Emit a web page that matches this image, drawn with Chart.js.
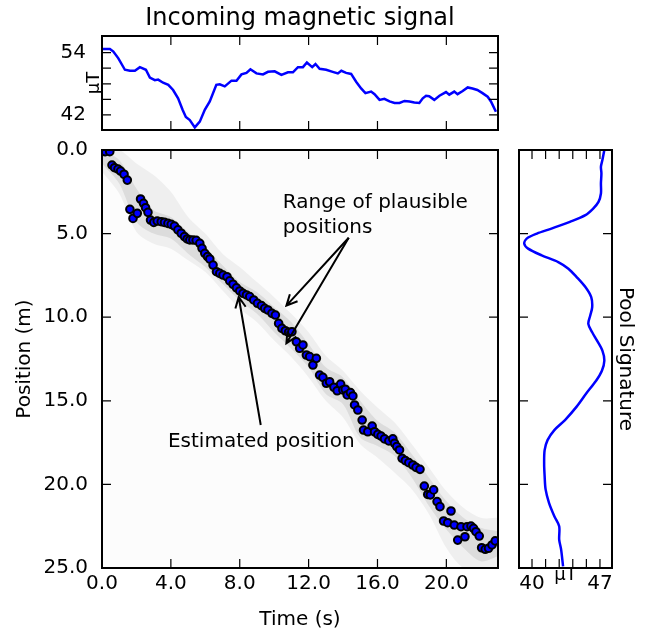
<!DOCTYPE html>
<html>
<head>
<meta charset="utf-8">
<script src="https://cdn.jsdelivr.net/npm/chart.js@4/dist/chart.umd.min.js"></script>
<style>
  html, body { margin: 0; padding: 0; background: #fff; }
  #wrap { position: relative; width: 650px; height: 633px; }
  canvas { position: absolute; }
</style>
</head>
<body>
<div id="wrap">
  <canvas id="signal" width="515" height="140" style="left:0;top:0"></canvas>
  <canvas id="track" width="515" height="493" style="left:0;top:140px"></canvas>
  <canvas id="pool" width="145" height="493" style="left:505px;top:140px"></canvas>
</div>
<script>
// incoming signal (top panel)
const sigTime = [0.0, 0.46, 0.66, 0.95, 1.33, 1.62, 1.91, 2.2, 2.55, 2.78, 3.07, 3.26, 3.55, 3.85, 4.13, 4.42, 4.68, 4.87, 5.1, 5.39,
  5.68, 5.97, 6.26, 6.64, 6.84, 7.13, 7.52, 7.81, 8.1, 8.39, 8.62, 8.97, 9.35, 9.64, 10.03, 10.42, 10.8, 11.09, 11.38, 11.67,
  11.9, 12.21, 12.4, 12.64, 13.02, 13.4, 13.7, 13.9, 14.18, 14.47, 14.76, 15.05, 15.3, 15.63, 15.83, 16.12, 16.4, 16.7, 16.99, 17.28,
  17.57, 17.86, 18.14, 18.43, 18.63, 18.82, 19.0, 19.3, 19.6, 19.98, 20.17, 20.46, 20.65, 20.95, 21.24, 21.52, 21.8, 22.1, 22.4, 22.59, 22.88];
const sigValue = [54.7, 54.7, 54.2, 52.9, 50.7, 50.5, 50.5, 51.2, 50.7, 49.2, 48.7, 48.8, 48.2, 47.8, 46.8, 45.2, 43.0, 41.6, 41.0, 39.6,
  40.7, 43.0, 44.6, 47.8, 47.9, 47.5, 48.6, 48.6, 49.8, 50.1, 50.8, 50.0, 49.8, 50.3, 50.4, 49.7, 50.2, 50.2, 51.2, 51.2,
  52.1, 51.2, 51.8, 50.9, 50.7, 50.3, 50.0, 50.5, 50.1, 49.9, 48.4, 47.1, 46.2, 46.5, 46.0, 44.9, 45.1, 44.6, 44.3, 44.3,
  44.7, 44.6, 44.4, 44.3, 45.2, 45.7, 45.6, 44.9, 45.7, 46.4, 45.9, 46.5, 46.0, 46.6, 47.3, 47.1, 46.8, 46.2, 45.5, 44.6, 42.6];

// estimated position (main panel)
const estTime = [0.0, 0.19, 0.45, 0.58, 0.73, 0.93, 1.08, 1.28, 1.47, 1.62, 1.8, 2.05, 2.24, 2.41, 2.53, 2.67, 2.82, 3.01, 3.21, 3.44,
  3.63, 3.83, 4.02, 4.21, 4.41, 4.6, 4.79, 4.95, 5.1, 5.28, 5.47, 5.68, 5.81, 5.97, 6.13, 6.26, 6.45, 6.65, 6.84, 7.03,
  7.26, 7.42, 7.61, 7.81, 8.0, 8.19, 8.39, 8.58, 8.81, 9.03, 9.26, 9.45, 9.64, 9.87, 10.07, 10.26, 10.45, 10.65, 10.84, 11.03,
  11.29, 11.48, 11.67, 11.87, 12.06, 12.25, 12.45, 12.64, 12.83, 13.03, 13.22, 13.47, 13.66, 13.86, 13.99, 14.13, 14.24, 14.43, 14.57, 14.67,
  14.86, 15.11, 15.19, 15.44, 15.69, 15.83, 16.02, 16.21, 16.41, 16.66, 16.89, 16.99, 17.12, 17.28, 17.43, 17.62, 17.82, 18.05, 18.24, 18.47,
  18.72, 18.92, 19.07, 19.26, 19.46, 19.63, 19.84, 20.08, 20.27, 20.46, 20.66, 20.85, 21.08, 21.2, 21.43, 21.58, 21.72, 21.91, 22.05, 22.26,
  22.45, 22.65, 22.84];
const estPos = [0.0, 0.1, 0.1, 0.9, 1.06, 1.14, 1.26, 1.45, 1.8, 3.55, 4.09, 3.79, 2.93, 3.19, 3.45, 3.73, 4.19, 4.33, 4.25, 4.29,
  4.33, 4.39, 4.45, 4.55, 4.78, 4.98, 5.18, 5.32, 5.38, 5.38, 5.4, 5.58, 5.88, 6.18, 6.38, 6.52, 6.88, 7.28, 7.38, 7.48,
  7.58, 7.83, 8.03, 8.24, 8.43, 8.57, 8.67, 8.77, 8.97, 9.17, 9.31, 9.47, 9.57, 9.77, 9.87, 10.37, 10.67, 10.81, 10.9, 10.87,
  11.47, 11.86, 11.66, 12.26, 12.36, 12.86, 12.46, 13.46, 13.6, 13.95, 13.86, 14.19, 14.4, 14.0, 14.35, 14.31, 14.65, 14.51, 14.71, 15.25,
  15.55, 16.15, 16.75, 16.85, 16.51, 16.85, 17.01, 17.11, 17.28, 17.4, 17.28, 17.54, 17.74, 17.94, 18.44, 18.58, 18.7, 18.84, 18.98, 19.1,
  20.1, 20.6, 20.63, 20.33, 21.03, 21.33, 22.19, 22.29, 21.59, 22.43, 23.33, 22.53, 23.13, 22.53, 22.49, 22.63, 22.83, 23.09, 23.79, 23.88,
  23.82, 23.62, 23.38];

// range of plausible positions (grey band)
const bandTime = [0, 1, 2, 3, 4, 5, 6, 7, 8, 9, 10, 11, 12, 13, 14, 15, 16, 17, 18, 19, 20, 21, 22, 23];
const outerLow = [0, 0, 0.8, 1.5, 2.5, 4.0, 5.0, 6.2, 7.0, 7.9, 8.8, 9.8, 10.9, 12.3, 13.2, 14.4, 15.4, 16.3, 17.6, 19.0, 20.4, 21.4, 22.0, 22.0];
const outerHigh = [1.3, 2.6, 4.9, 5.6, 5.9, 6.6, 7.3, 8.4, 9.5, 10.3, 11.4, 12.4, 13.6, 15.0, 16.0, 17.6, 18.4, 19.3, 20.3, 21.8, 23.8, 25, 25, 25];
const innerLow = [0, 0.6, 2.3, 3.6, 4.0, 4.9, 5.8, 6.9, 7.9, 8.5, 9.4, 10.3, 11.6, 13.0, 13.6, 15.0, 16.2, 16.9, 18.2, 19.6, 21.0, 22.0, 22.6, 22.8];
const innerHigh = [0.8, 2.0, 4.3, 5.0, 5.3, 6.2, 7.0, 8.0, 9.0, 9.8, 10.9, 11.9, 13.0, 14.6, 15.2, 17.2, 17.7, 18.3, 19.6, 21.3, 22.7, 23.8, 24.6, 24.3];

// pool signature (right panel)
const poolPos = [0, 0.6, 1.0, 1.4, 2.0, 2.6, 3.1, 3.5, 3.9, 4.3, 4.7, 5.0, 5.3, 5.6, 5.9, 6.3, 6.7, 7.1, 7.6, 8.2,
  8.8, 9.4, 9.9, 10.4, 10.9, 11.4, 12.0, 12.6, 13.2, 13.8, 14.55, 15.35, 16.15, 16.75, 17.35, 17.95, 18.75, 19.5, 20.3, 21.1,
  21.9, 22.5, 23.3, 23.9, 24.9];
const poolValue = [47.45, 47.25, 47.1, 47.15, 47.1, 47.1, 46.85, 46.3, 45.5, 43.9, 42.0, 40.5, 39.45, 39.2, 39.6, 41.0, 42.7, 43.75, 44.6, 45.5,
  46.1, 46.2, 46.0, 45.8, 46.2, 46.7, 47.25, 47.45, 47.2, 46.6, 45.6, 44.6, 43.4, 42.3, 41.6, 41.3, 41.25, 41.3, 41.4, 41.75,
  42.3, 42.8, 42.8, 43.0, 43.2];

// ticks
const timeTicks = [0, 4, 8, 12, 16, 20];
const posTicks = [0, 5, 10, 15, 20, 25];
const sigTicks = [42, 45, 48, 51, 54];
const sigLabels = ['42', '', '', '', '54'];
const poolTicks = [40, 41.4, 42.8, 44.2, 45.6, 47];
const poolLabels = ['40', '', '', '', '', '47'];

const pts = (xs, ys) => xs.map((x, i) => ({x: x, y: ys[i]}));

Chart.defaults.font.family = "'DejaVu Sans', sans-serif";
Chart.defaults.color = '#000';

// no extra room for edge labels, the areas are placed by hand
const noPad = s => { s.paddingTop = 0; s.paddingBottom = 0; s.paddingLeft = 0; s.paddingRight = 0; };

// background, border and inward tick marks like the original
const frame = {
  id: 'frame',
  beforeDraw(chart, args, opts) {
    const {ctx, chartArea: a} = chart;
    ctx.save();
    ctx.fillStyle = opts.bg || '#fff';
    ctx.fillRect(a.left, a.top, a.width, a.height);
    ctx.restore();
  },
  afterDraw(chart) {
    const {ctx, chartArea: a, scales} = chart;
    const len = 9;
    ctx.save();
    ctx.strokeStyle = '#000';
    ctx.lineWidth = 1.2;
    ctx.beginPath();
    Object.values(scales).forEach(s => {
      s.ticks.forEach(t => {
        const p = s.getPixelForValue(t.value);
        if (s.isHorizontal()) {
          if (p <= a.left + 1 || p >= a.right - 1) return;
          ctx.moveTo(p, a.bottom); ctx.lineTo(p, a.bottom - len);
          ctx.moveTo(p, a.top); ctx.lineTo(p, a.top + len);
        } else {
          if (p <= a.top + 1 || p >= a.bottom - 1) return;
          ctx.moveTo(a.left, p); ctx.lineTo(a.left + len, p);
          ctx.moveTo(a.right, p); ctx.lineTo(a.right - len, p);
        }
      });
    });
    ctx.stroke();
    ctx.lineWidth = 2;
    ctx.strokeRect(a.left, a.top, a.width, a.height);
    ctx.restore();
  }
};

// text labels and arrows, placed in data units
const notes = {
  id: 'notes',
  afterDatasetsDraw(chart) {
    const {ctx, scales: {x, y}} = chart;
    const X = v => x.getPixelForValue(v), Y = v => y.getPixelForValue(v);
    ctx.save();
    ctx.fillStyle = '#000';
    ctx.font = "20px 'DejaVu Sans'";
    ctx.textBaseline = 'middle';
    ctx.textAlign = 'left';
    ctx.fillText('Range of plausible', X(10.5), Y(3.17));
    ctx.fillText('positions', X(10.5), Y(4.66));
    ctx.fillText('Estimated position', X(3.83), Y(17.45));
    const arrow = (t0, p0, t1, p1) => {
      const x0 = X(t0), y0 = Y(p0), x1 = X(t1), y1 = Y(p1);
      const ang = Math.atan2(y1 - y0, x1 - x0);
      const h = 12, w = 0.45;
      ctx.beginPath();
      ctx.moveTo(x0, y0); ctx.lineTo(x1, y1);
      ctx.moveTo(x1 - h * Math.cos(ang - w), y1 - h * Math.sin(ang - w));
      ctx.lineTo(x1, y1);
      ctx.lineTo(x1 - h * Math.cos(ang + w), y1 - h * Math.sin(ang + w));
      ctx.stroke();
    };
    ctx.strokeStyle = '#000';
    ctx.lineWidth = 2;
    arrow(14.33, 5.25, 10.71, 9.31);
    arrow(14.33, 5.25, 10.71, 11.56);
    arrow(9.22, 16.45, 7.94, 8.79);
    ctx.restore();
  }
};

const base = {
  responsive: false,
  maintainAspectRatio: false,
  devicePixelRatio: 1,
  animation: false,
  events: []
};

new Chart(document.getElementById('signal'), {
  type: 'scatter',
  data: {
    datasets: [{
      data: pts(sigTime, sigValue),
      showLine: true,
      borderColor: '#0000ff',
      borderWidth: 2.5,
      pointRadius: 0
    }]
  },
  options: Object.assign({}, base, {
    layout: {padding: {right: 17}},
    plugins: {
      legend: {display: false},
      tooltip: {enabled: false},
      title: {
        display: true, text: 'Incoming magnetic signal', fullSize: false,
        font: {size: 24, weight: 'normal'}, color: '#000',
        padding: {top: 4, bottom: 3.2}
      },
      frame: {bg: '#fff'}
    },
    scales: {
      x: {
        type: 'linear', min: 0, max: 23,
        grid: {display: false}, border: {display: false},
        ticks: {display: false},
        afterBuildTicks: s => { s.ticks = timeTicks.map(v => ({value: v})); },
        afterFit: s => { s.height = 10; noPad(s); }
      },
      y: {
        type: 'linear', min: 39.1, max: 57.2,
        grid: {display: false}, border: {display: false},
        afterBuildTicks: s => { s.ticks = sigTicks.map(v => ({value: v})); },
        afterFit: s => { s.width = 102; noPad(s); },
        ticks: {font: {size: 20}, padding: 8, autoSkip: false,
          callback: (v, i) => sigLabels[i]},
        title: {display: true, text: 'μT', font: {size: 18}, padding: {top: 84, bottom: 0}}
      }
    }
  }),
  plugins: [frame]
});

new Chart(document.getElementById('track'), {
  type: 'scatter',
  data: {
    datasets: [
      {
        data: pts(estTime, estPos), order: 0,
        backgroundColor: '#0000ff', borderColor: '#000',
        borderWidth: 2, pointRadius: 3.8
      },
      {
        type: 'line', data: pts(bandTime, outerLow), order: 2,
        borderWidth: 0, pointRadius: 0, tension: 0.3, fill: false
      },
      {
        type: 'line', data: pts(bandTime, outerHigh), order: 2,
        borderWidth: 0, pointRadius: 0, tension: 0.3,
        fill: '-1', backgroundColor: 'rgba(0,0,0,0.05)'
      },
      {
        type: 'line', data: pts(bandTime, innerLow), order: 1,
        borderWidth: 0, pointRadius: 0, tension: 0.3, fill: false
      },
      {
        type: 'line', data: pts(bandTime, innerHigh), order: 1,
        borderWidth: 0, pointRadius: 0, tension: 0.3,
        fill: '-1', backgroundColor: 'rgba(0,0,0,0.08)'
      }
    ]
  },
  options: Object.assign({}, base, {
    layout: {padding: {top: 10, right: 17}},
    plugins: {
      legend: {display: false},
      tooltip: {enabled: false},
      frame: {bg: '#fcfcfc'}
    },
    scales: {
      x: {
        type: 'linear', min: 0, max: 23,
        grid: {display: false}, border: {display: false},
        afterBuildTicks: s => { s.ticks = timeTicks.map(v => ({value: v})); },
        afterFit: s => { s.height = 65; noPad(s); },
        ticks: {font: {size: 20}, padding: -4, autoSkip: false, maxRotation: 0,
          callback: v => Number(v).toFixed(1)},
        title: {display: true, text: 'Time (s)', font: {size: 20}, padding: {top: 0, bottom: 1}}
      },
      y: {
        type: 'linear', min: 0, max: 25, reverse: true,
        grid: {display: false}, border: {display: false},
        afterBuildTicks: s => { s.ticks = posTicks.map(v => ({value: v})); },
        afterFit: s => { s.width = 102; noPad(s); },
        ticks: {font: {size: 20}, padding: 6, autoSkip: false,
          callback: v => Number(v).toFixed(1)},
        title: {display: true, text: 'Position (m)', font: {size: 20}, padding: {top: 13, bottom: 0}}
      }
    }
  }),
  plugins: [frame, notes]
});

new Chart(document.getElementById('pool'), {
  type: 'scatter',
  data: {
    datasets: [{
      data: pts(poolValue, poolPos),
      showLine: true,
      borderColor: '#0000ff',
      borderWidth: 2.5,
      pointRadius: 0,
      tension: 0.3
    }]
  },
  options: Object.assign({}, base, {
    layout: {padding: {left: 14, top: 10}},
    plugins: {
      legend: {display: false},
      tooltip: {enabled: false},
      frame: {bg: '#fff'}
    },
    scales: {
      x: {
        type: 'linear', min: 38.66, max: 48.24,
        grid: {display: false}, border: {display: false},
        afterBuildTicks: s => { s.ticks = poolTicks.map(v => ({value: v})); },
        afterFit: s => { s.height = 65; noPad(s); },
        ticks: {font: {size: 20}, padding: -4, autoSkip: false, maxRotation: 0,
          callback: (v, i) => poolLabels[i]},
        title: {display: true, text: 'μT', font: {size: 18}, padding: {top: 0, bottom: 47}}
      },
      y: {
        type: 'linear', position: 'right', min: 0, max: 25, reverse: true,
        grid: {display: false}, border: {display: false},
        afterBuildTicks: s => { s.ticks = posTicks.map(v => ({value: v})); },
        afterFit: s => { s.width = 38; noPad(s); },
        ticks: {display: false},
        title: {display: true, text: 'Pool Signature', font: {size: 20}, padding: {top: 13, bottom: 0}}
      }
    }
  }),
  plugins: [frame]
});
</script>
</body>
</html>
